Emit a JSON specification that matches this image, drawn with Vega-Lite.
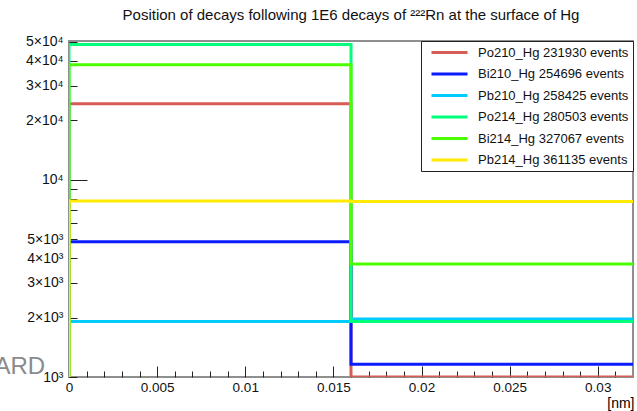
{
  "$schema": "https://vega.github.io/schema/vega-lite/v6.json",
  "width": 564,
  "height": 336,
  "autosize": {"type": "none"},
  "padding": {"left": 69, "top": 41, "right": 4, "bottom": 34},
  "background": "white",
  "config": {
    "font": "Liberation Sans",
    "view": {"stroke": "#8f8f8f", "strokeWidth": 2},
    "axis": {"grid": false, "domain": false, "tickColor": "#222", "labelColor": "#111", "labelFont": "Liberation Sans", "titleFont": "Liberation Sans", "titleFontWeight": "normal"}
  },
  "title": {
    "text": "Position of decays following 1E6 decays of ²²²Rn at the surface of Hg",
    "fontSize": 15,
    "fontWeight": "normal",
    "anchor": "middle",
    "offset": 12,
    "color": "#111"
  },
  "resolve": {"axis": {"x": "independent", "y": "independent"}},
  "layer": [
    {
      "data": {
        "values": [
          {"series": "Po210_Hg 231930 events", "o": 1, "x": 0, "y": 1000},
          {"series": "Po210_Hg 231930 events", "o": 2, "x": 0, "y": 24300},
          {"series": "Po210_Hg 231930 events", "o": 3, "x": 0.016, "y": 24300},
          {"series": "Po210_Hg 231930 events", "o": 4, "x": 0.016, "y": 1000},
          {"series": "Po210_Hg 231930 events", "o": 5, "x": 0.032, "y": 1000},
          {"series": "Bi210_Hg 254696 events", "o": 1, "x": 0, "y": 1000},
          {"series": "Bi210_Hg 254696 events", "o": 2, "x": 0, "y": 4850},
          {"series": "Bi210_Hg 254696 events", "o": 3, "x": 0.016, "y": 4850},
          {"series": "Bi210_Hg 254696 events", "o": 4, "x": 0.016, "y": 1160},
          {"series": "Bi210_Hg 254696 events", "o": 5, "x": 0.032, "y": 1160},
          {"series": "Pb210_Hg 258425 events", "o": 1, "x": 0, "y": 1000},
          {"series": "Pb210_Hg 258425 events", "o": 2, "x": 0, "y": 1910},
          {"series": "Pb210_Hg 258425 events", "o": 3, "x": 0.016, "y": 1910},
          {"series": "Pb210_Hg 258425 events", "o": 4, "x": 0.016, "y": 1967},
          {"series": "Pb210_Hg 258425 events", "o": 5, "x": 0.032, "y": 1967},
          {"series": "Po214_Hg 280503 events", "o": 1, "x": 0, "y": 1000},
          {"series": "Po214_Hg 280503 events", "o": 2, "x": 0, "y": 48500},
          {"series": "Po214_Hg 280503 events", "o": 3, "x": 0.016, "y": 48500},
          {"series": "Po214_Hg 280503 events", "o": 4, "x": 0.016, "y": 1910},
          {"series": "Po214_Hg 280503 events", "o": 5, "x": 0.032, "y": 1910},
          {"series": "Bi214_Hg 327067 events", "o": 1, "x": 0, "y": 1000},
          {"series": "Bi214_Hg 327067 events", "o": 2, "x": 0, "y": 38300},
          {"series": "Bi214_Hg 327067 events", "o": 3, "x": 0.016, "y": 38300},
          {"series": "Bi214_Hg 327067 events", "o": 4, "x": 0.016, "y": 3740},
          {"series": "Bi214_Hg 327067 events", "o": 5, "x": 0.032, "y": 3740},
          {"series": "Pb214_Hg 361135 events", "o": 1, "x": 0, "y": 1000},
          {"series": "Pb214_Hg 361135 events", "o": 2, "x": 0, "y": 7800},
          {"series": "Pb214_Hg 361135 events", "o": 3, "x": 0.016, "y": 7800},
          {"series": "Pb214_Hg 361135 events", "o": 4, "x": 0.016, "y": 7750},
          {"series": "Pb214_Hg 361135 events", "o": 5, "x": 0.032, "y": 7750}
        ]
      },
      "mark": {"type": "line", "strokeWidth": 3, "clip": true, "interpolate": "linear"},
      "encoding": {
        "x": {
          "field": "x", "type": "quantitative",
          "scale": {"domain": [0, 0.032], "nice": false, "zero": false},
          "axis": {
            "values": [0, 0.005, 0.01, 0.015, 0.02, 0.025, 0.03],
            "format": "~g",
            "tickSize": -11,
            "labelPadding": 14,
            "labelFontSize": 13.5,
            "labelFlush": false,
            "title": "[nm]",
            "titleAnchor": "end",
            "titleFontSize": 14,
            "titlePadding": 3,
            "titleX": 565
          }
        },
        "y": {
          "field": "y", "type": "quantitative",
          "scale": {"type": "log", "domain": [1000, 50500], "nice": false},
          "axis": {
            "values": [1000, 2000, 3000, 4000, 5000, 6000, 7000, 8000, 9000, 10000, 20000, 30000, 40000, 50000],
            "labelExpr": "datum.value == 1000 ? '10³' : datum.value < 5500 ? (datum.value/1000) + '×10³' : datum.value < 9500 ? '' : datum.value == 10000 ? '10⁴' : (datum.value/10000) + '×10⁴'",
            "tickSize": -8,
            "labelPadding": 14,
            "labelFontSize": 14,
            "title": null
          }
        },
        "color": {
          "field": "series", "type": "nominal",
          "scale": {
            "domain": ["Po210_Hg 231930 events", "Bi210_Hg 254696 events", "Pb210_Hg 258425 events", "Po214_Hg 280503 events", "Bi214_Hg 327067 events", "Pb214_Hg 361135 events"],
            "range": ["#d65c55", "#0a1cff", "#00ccff", "#00ff7a", "#4cff00", "#ffea00"]
          },
          "legend": {
            "title": null,
            "orient": "top-right",
            "offset": 0,
            "padding": 4,
            "strokeColor": "#222",
            "fillColor": "white",
            "cornerRadius": 0,
            "symbolType": "M-3,0H3",
            "symbolSize": 144,
            "symbolStrokeWidth": 3,
            "symbolOffset": 17,
            "labelOffset": 21,
            "labelFontSize": 13,
            "labelColor": "#111",
            "labelLimit": 300,
            "rowPadding": 6.5
          }
        },
        "order": {"field": "o", "type": "quantitative"}
      }
    },
    {
      "data": {"values": [{"label": "ARD"}]},
      "mark": {"type": "text", "align": "right", "baseline": "alphabetic", "fontSize": 24, "color": "#8a8a8a", "clip": false},
      "encoding": {
        "text": {"field": "label", "type": "nominal"},
        "x": {
          "datum": -0.00135, "type": "quantitative",
          "axis": {
            "orient": "bottom",
            "values": [0.001, 0.002, 0.003, 0.004, 0.006, 0.007, 0.008, 0.009, 0.011, 0.012, 0.013, 0.014, 0.016, 0.017, 0.018, 0.019, 0.021, 0.022, 0.023, 0.024, 0.026, 0.027, 0.028, 0.029, 0.031],
            "tickSize": -6,
            "labels": false,
            "title": null,
            "domain": false
          }
        },
        "y": {
          "datum": 1030, "type": "quantitative",
          "axis": {
            "orient": "left",
            "values": [10000],
            "tickSize": -18,
            "labels": false,
            "title": null,
            "domain": false
          }
        }
      }
    }
  ]
}
